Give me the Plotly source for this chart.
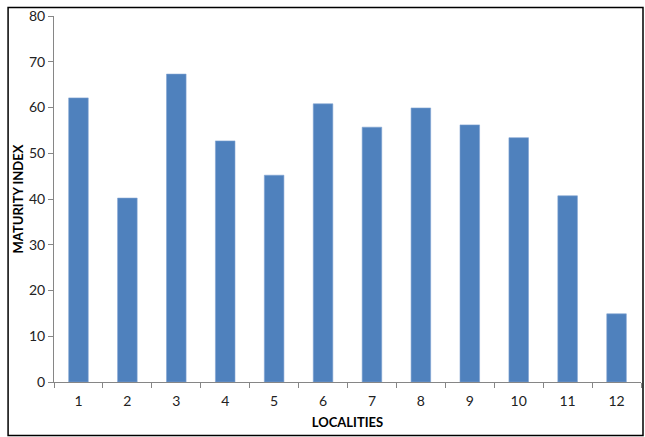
import plotly.graph_objects as go

localities = ["1", "2", "3", "4", "5", "6", "7", "8", "9", "10", "11", "12"]
maturity_index = [62.1, 40.2, 67.3, 52.7, 45.2, 60.8, 55.7, 59.9, 56.2, 53.4, 40.7, 14.9]

W, H = 645, 437
L, R, T, B = 53.5, 3.5, 16, 55
pw, ph = W - L - R, H - T - B

def px_to_paper_x(px):
    return (px - L) / pw

def px_to_paper_y(py):
    return (H - B - py) / ph

fig = go.Figure(go.Bar(
    x=localities, y=maturity_index,
    marker=dict(color="#4F81BD", line=dict(color="#7FA3D1", width=0.6)),
))

fig.update_layout(
    width=W, height=H,
    margin=dict(l=L, r=R, t=T, b=B, pad=0, autoexpand=False),
    plot_bgcolor="white", paper_bgcolor="white",
    bargap=0.6, showlegend=False,
    font=dict(family="Lato, Carlito, Liberation Sans, sans-serif", size=14, color="#222"),
    shapes=[dict(type="rect", xref="paper", yref="paper",
                 x0=px_to_paper_x(7.5), x1=px_to_paper_x(643.5),
                 y0=px_to_paper_y(435.5), y1=px_to_paper_y(7.5),
                 line=dict(color="black", width=1.5), layer="above")],
)
fig.update_xaxes(
    type="category", showline=True, linecolor="#868686", linewidth=1,
    ticks="outside", tickson="boundaries", ticklen=5, tickcolor="#868686",
    showgrid=False, tickfont=dict(size=14), automargin=False, ticklabelstandoff=6,
    title=dict(text="<b>LOCALITIES</b>", font=dict(size=13, color="black"), standoff=10),
)
fig.update_yaxes(
    range=[0, 80], dtick=10, showline=True, linecolor="#868686", linewidth=1,
    ticks="outside", ticklen=5, tickcolor="#868686", showgrid=False, zeroline=False,
    tickfont=dict(size=14), automargin=False,
    title=dict(text="<b>MATURITY INDEX</b>", font=dict(size=13, color="black"), standoff=2),
)

fig.write_html("out.html", config={"displayModeBar": False},
               post_script="document.body.style.margin='0';")
